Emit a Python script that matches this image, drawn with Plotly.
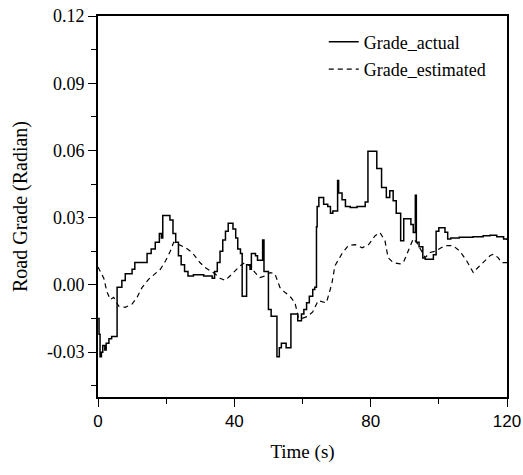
import plotly.graph_objects as go

# ---- data ----
# Grade_actual: piecewise-constant steps (time at which each level starts, level)
actual_t = [0, 0.3, 0.6, 1.0, 1.4, 2.0, 2.4, 3.2, 4.0, 5.6, 7.0, 8.0, 10.0, 10.8, 14.4,
            15.6, 16.8, 18.0, 18.6, 19.0, 21.1, 22.0, 22.8, 23.6, 24.4, 25.4, 26.4, 28.0,
            31.0, 33.5, 34.2, 35.0, 35.8, 36.6, 37.4, 38.2, 39.6, 40.4, 41.0, 41.8, 42.3,
            43.6, 44.6, 45.0, 46.2, 46.8, 48.3, 48.7, 50.0, 50.8, 52.5, 53.2, 53.8, 55.2,
            56.6, 58.6, 59.7, 60.4, 61.2, 62.0, 63.0, 63.6, 64.1, 64.3, 64.8, 66.2, 67.4,
            68.2, 68.9, 70.3, 70.6, 71.6, 72.6, 74.0, 76.0, 78.4, 79.2, 81.8, 83.2, 84.6,
            85.6, 86.6, 87.5, 88.8, 89.7, 91.8, 92.5, 93.1, 93.4, 94.2, 95.3, 96.0, 98.4,
            99.2, 100.0, 101.8, 102.6, 103.5, 106.0, 110.0, 113.0, 115.0, 117.0, 119.0, 120.0]
actual_v = [-0.015, -0.022, -0.032, -0.030, -0.027, -0.029, -0.026, -0.024, -0.023, -0.001,
            0.002, 0.005, 0.007, 0.010, 0.014, 0.016, 0.019, 0.023, 0.021, 0.031, 0.029,
            0.023, 0.019, 0.013, 0.009, 0.006, 0.004, 0.0045, 0.004, 0.003, 0.006, 0.010,
            0.015, 0.020, 0.024, 0.0275, 0.025, 0.021, 0.016, 0.014, -0.005, 0.009, 0.007,
            0.014, 0.013, 0.011, 0.020, 0.006, -0.011, -0.014, -0.032, -0.028, -0.026,
            -0.028, -0.013, -0.016, -0.013, -0.011, -0.008, -0.005, -0.002, -0.001, 0.026,
            0.035, 0.039, 0.036, 0.035, 0.032, 0.033, 0.0466, 0.041, 0.038, 0.035, 0.0345,
            0.035, 0.037, 0.0597, 0.052, 0.0435, 0.039, 0.042, 0.0376, 0.032, 0.0197,
            0.0295, 0.027, 0.0234, 0.040, 0.019, 0.017, 0.012, 0.0115, 0.0135, 0.024,
            0.0255, 0.0235, 0.0205, 0.021, 0.0213, 0.0215, 0.022, 0.0222, 0.0215, 0.0205,
            0.020]

# Grade_estimated: smooth curve
est_t = [0, 1.7, 2.6, 3.6, 4.6, 6.1, 8.0, 10.0, 11.4, 12.9, 14.9, 16.8, 18.3, 19.8, 21.2,
         22.2, 23.7, 25.6, 27.6, 29.9, 31.4, 32.9, 34.3, 35.8, 37.3, 38.7, 40.2, 41.7,
         43.1, 44.6, 46.1, 47.5, 49.0, 50.5, 51.9, 53.4, 54.9, 56.3, 57.8, 58.8, 59.8,
         61.5, 63.0, 64.6, 67.0, 68.6, 69.5, 71.6, 73.4, 75.4, 77.5, 79.4, 81.3, 82.7,
         84.2, 85.1, 86.6, 88.6, 89.6, 91.0, 92.5, 93.5, 94.5, 96.0, 97.4, 98.9, 100.8,
         102.3, 104.2, 106.2, 108.2, 110.1, 111.5, 113.0, 115.0, 116.0, 117.4, 118.4, 120.0]
est_v = [0.008, 0.003, -0.003, -0.0065, -0.0055, -0.0095, -0.010, -0.0085, -0.0057,
         -0.0012, 0.0026, 0.005, 0.007, 0.0107, 0.015, 0.019, 0.018, 0.0167, 0.0145,
         0.010, 0.0078, 0.0063, 0.005, 0.003, 0.002, 0.004, 0.0063, 0.0085, 0.010,
         0.0085, 0.0055, 0.0033, 0.004, 0.0055, 0.005, -0.0012, -0.0034, -0.005, -0.008,
         -0.0146, -0.015, -0.014, -0.012, -0.007, -0.008, 0.0004, 0.0085, 0.014, 0.0175,
         0.018, 0.0166, 0.018, 0.022, 0.0234, 0.0197, 0.0122, 0.010, 0.0094, 0.010,
         0.015, 0.0206, 0.019, 0.016, 0.0122, 0.0145, 0.015, 0.0167, 0.0175, 0.0175,
         0.015, 0.0107, 0.0055, 0.0078, 0.010, 0.013, 0.0137, 0.0122, 0.010, 0.010]

series_names = ["Grade_actual", "Grade_estimated"]
x_title = "Time (s)"
y_title = "Road Grade (Radian)"
x_ticks = [0, 40, 80, 120]
y_ticks = [-0.03, 0.00, 0.03, 0.06, 0.09, 0.12]
y_tick_labels = ["-0.03", "0.00", "0.03", "0.06", "0.09", "0.12"]

SERIF = "Liberation Serif, Times New Roman, serif"
SANS = "Liberation Sans, Arial, sans-serif"

fig = go.Figure()
fig.add_trace(go.Scatter(x=actual_t, y=actual_v, mode="lines", name=series_names[0],
                         line=dict(color="black", width=1.5, shape="hv"),
                         legendgroup="a"))
fig.add_trace(go.Scatter(x=est_t, y=est_v, mode="lines", name=series_names[1],
                         line=dict(color="black", width=1.2, dash="5px,4px"),
                         legendgroup="b"))

fig.update_layout(
    width=523, height=475,
    margin=dict(l=98, r=16, t=16, b=78, autoexpand=False),
    paper_bgcolor="white", plot_bgcolor="white",
    showlegend=True,
    legend=dict(x=0.552, y=0.98, xanchor="left", yanchor="top",
                font=dict(family=SERIF, size=18, color="black"),
                bgcolor="rgba(0,0,0,0)", tracegroupgap=1),
    xaxis=dict(range=[0, 120], tickvals=x_ticks, ticks="outside", ticklen=8,
               tickwidth=1.3, tickcolor="black", showline=True, linecolor="black",
               linewidth=1.6, mirror=True, showgrid=False, zeroline=False,
               automargin=False,
               tickfont=dict(family=SANS, size=17, color="black"),
               minor=dict(dtick=20, tick0=0, ticks="outside", ticklen=5,
                          tickcolor="black", tickwidth=1.3),
               title=dict(text=x_title, font=dict(family=SERIF, size=19, color="black"),
                          standoff=14)),
    yaxis=dict(range=[-0.05, 0.12], tickvals=y_ticks, ticktext=y_tick_labels,
               ticks="outside", ticklen=8, tickwidth=1.3, tickcolor="black",
               showline=True, linecolor="black", linewidth=1.6, mirror=True,
               showgrid=False, zeroline=False, automargin=False,
               tickfont=dict(family=SERIF, size=18, color="black"),
               minor=dict(dtick=0.015, tick0=0, ticks="outside", ticklen=5,
                          tickcolor="black", tickwidth=1.3),
               title=dict(text=y_title, font=dict(family=SERIF, size=20, color="black"),
                          standoff=14)),
)

fig.write_html("out.html")
